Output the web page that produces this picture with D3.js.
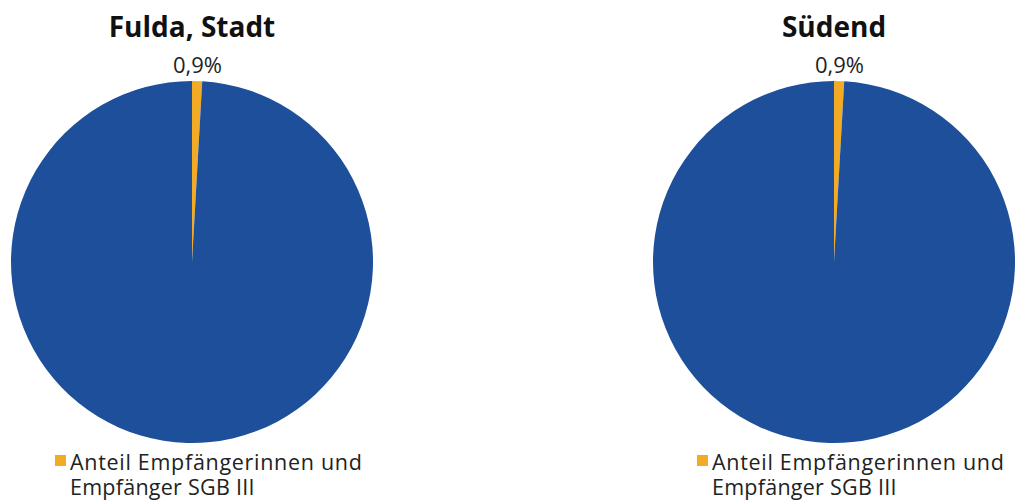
<!DOCTYPE html>
<html><head><meta charset="utf-8">
<script src="https://cdn.jsdelivr.net/npm/d3@7"></script>
<style>body{margin:0;background:#fff}svg{display:block}</style>
</head><body>
<svg id="c" width="1016" height="504"></svg>
<script>
const titles = ["Fulda, Stadt", "Südend"];
const shares = [0.9, 0.9];           // Anteil SGB III in %
const labels = ["0,9%", "0,9%"];
const legendLines = ["Anteil Empfängerinnen und", "Empfänger SGB III"];
const colors = ["#f3aa25", "#1d4f9b"];

const svg = d3.select("#c");
const centers = [192, 834];
const cy = 262, r = 181;
const pie = d3.pie().sort(null).value(d => d);
const arc = d3.arc().innerRadius(0).outerRadius(r);
const font = "'Open Sans', 'Noto Sans', sans-serif";

titles.forEach((t, i) => {
  const g = svg.append("g").attr("transform", `translate(${centers[i]},${cy})`);
  const data = pie([shares[i], 100 - shares[i]]);
  g.selectAll("path").data(data).enter().append("path")
    .attr("d", arc).attr("fill", (d, j) => colors[j]);
  svg.append("text").attr("x", centers[i]).attr("y", 37)
    .attr("text-anchor", "middle").attr("font-family", font)
    .attr("font-weight", 700).attr("font-size", 28).attr("fill", "#111").text(t);
  const mid = (data[0].startAngle + data[0].endAngle) / 2;
  svg.append("text").attr("x", centers[i] + Math.sin(mid) * (r + 14)).attr("y", 73)
    .attr("text-anchor", "middle").attr("font-family", font)
    .attr("font-size", 22).attr("fill", "#222").text(labels[i]);
  const lx = centers[i] - 137;
  svg.append("rect").attr("x", lx).attr("y", 455).attr("width", 11).attr("height", 11)
    .attr("fill", colors[0]);
  const lt = svg.append("text").attr("font-family", font).attr("font-size", 21.5).attr("fill", "#222");
  legendLines.forEach((l, k) => {
    lt.append("tspan").attr("x", lx + 15).attr("y", 470 + k * 25)
      .attr("letter-spacing", k === 0 ? 0.7 : 0.25)
      .text(l);
  });
});
</script>
</body></html>
